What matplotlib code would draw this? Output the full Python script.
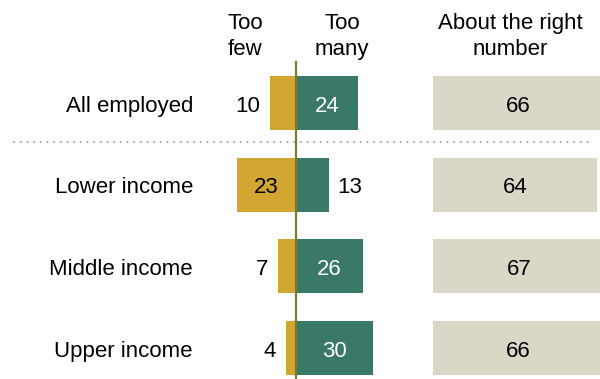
import matplotlib.pyplot as plt

plt.rcParams['font.family'] = ['Liberation Sans', 'DejaVu Sans']

#Data
groups = ['All employed', 'Lower income', 'Middle income', 'Upper income']
too_few = [10, 23, 7, 4]
too_many = [24, 13, 26, 30]
about_right = [66, 64, 67, 66]

#Colours
GOLD = '#D2A631'
TEAL = '#3A7867'
BEIGE = '#DAD7C6'
OLIVE = '#7A7A38'

RIGHT_START = 53.3   # where the "about right" column starts
BAR_H = 0.66
BASE = 0.104         # baseline offset so text sits centred on a row
FS = 16

fig = plt.figure(figsize=(6, 3.79), dpi=100)
ax = fig.add_axes([0, 0, 1, 1])
ax.set_xlim(-115.2, 118.3)
ax.set_ylim(3.378, -1.261)
ax.axis('off')

rows = range(len(groups))

#Bars
ax.barh(rows, [-v for v in too_few], height=BAR_H, color=GOLD)
ax.barh(rows, too_many, height=BAR_H, color=TEAL)
ax.barh(rows, about_right, left=RIGHT_START, height=BAR_H, color=BEIGE)

#Centre line and dotted separator
ax.plot([0, 0], [-0.50, 3.5], color=OLIVE, lw=1.6, zorder=3)
ax.plot([-109.7, 115.2], [0.483, 0.483], color='#ABABAB', lw=1.5,
        linestyle=(0, (0.1, 3.1)), dash_capstyle='round')

for i in rows:
    y = i + BASE
    ax.text(-40.1, y, groups[i], ha='right', va='baseline', fontsize=FS)

    # too few
    if too_few[i] >= 20:
        ax.text(-too_few[i] / 2, y, str(too_few[i]), ha='center', va='baseline',
                fontsize=FS, color='black')
    else:
        ax.text(-too_few[i] - 3.9, y, str(too_few[i]), ha='right', va='baseline',
                fontsize=FS, color='black')

    # too many
    if too_many[i] >= 20:
        ax.text(too_many[i] / 2, y, str(too_many[i]), ha='center', va='baseline',
                fontsize=FS, color='white')
    else:
        ax.text(too_many[i] + 3.1, y, str(too_many[i]), ha='left', va='baseline',
                fontsize=FS, color='black')

    # about right
    ax.text(RIGHT_START + about_right[i] / 2, y, str(about_right[i]),
            ha='center', va='baseline', fontsize=FS, color='black')

#Column headers
headers = [(-19.8, 'Too', 'few'), (17.9, 'Too', 'many'),
           (83.3, 'About the right', 'number')]
for x, l1, l2 in headers:
    ax.text(x, -0.906, l1, ha='center', va='baseline', fontsize=FS)
    ax.text(x, -0.588, l2, ha='center', va='baseline', fontsize=FS)

fig.savefig('out.png', dpi=100)
